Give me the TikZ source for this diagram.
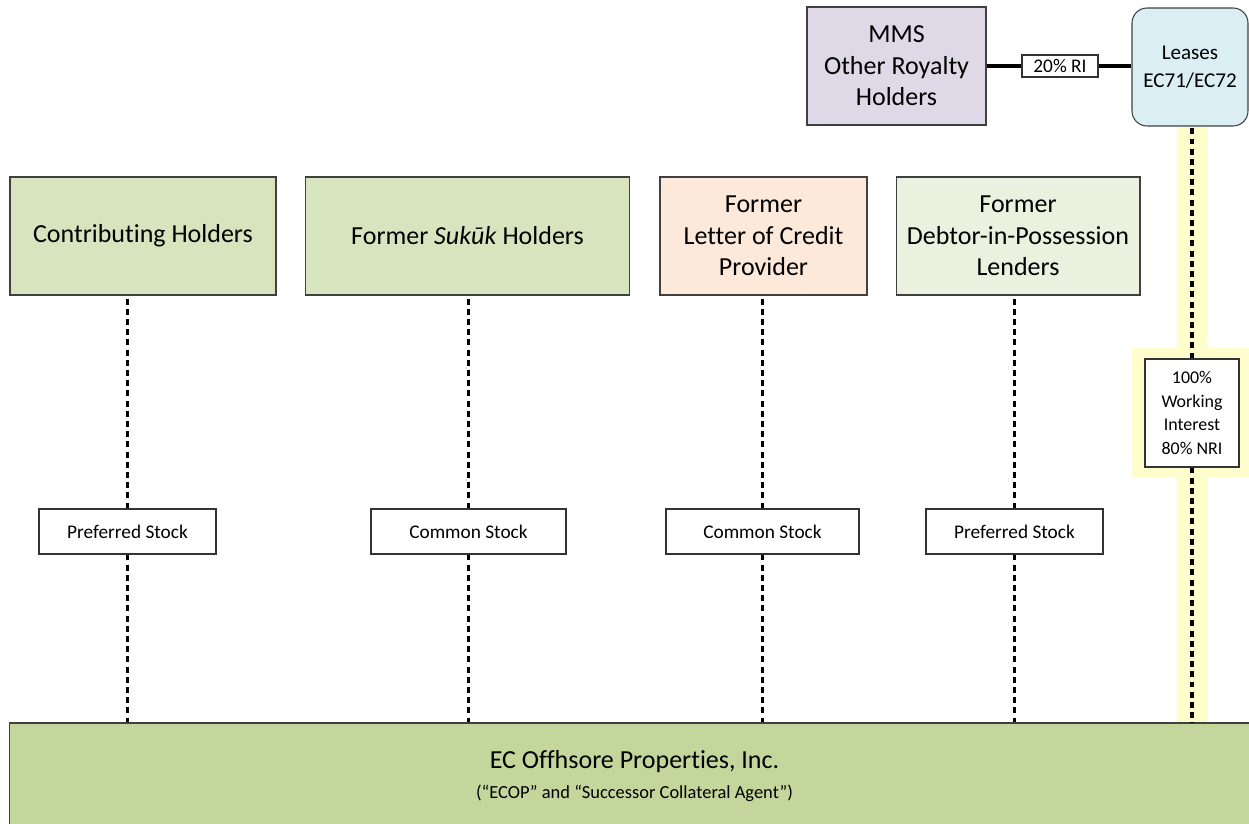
\documentclass[tikz,border=0pt]{standalone}
\usepackage{fontspec}
\setmainfont{Carlito}[Ligatures=NoCommon]
\definecolor{ecgreen}{RGB}{215, 228, 189}
\definecolor{ecpale}{RGB}{235, 241, 222}
\definecolor{ecpeach}{RGB}{253, 233, 217}
\definecolor{eclilac}{RGB}{223, 216, 230}
\definecolor{ecblue}{RGB}{218, 238, 243}
\definecolor{ecdark}{RGB}{195, 214, 155}
\definecolor{ecyellow}{RGB}{255, 253, 204}
\usetikzlibrary{backgrounds}

\begin{document}
\begin{tikzpicture}[x=0.02cm, y=-0.02cm,
    party/.style={draw=black!75, line width=0.6pt, minimum height=2.36cm, align=center,
                  font=\fontsize{14.8pt}{18pt}\selectfont},
    stocklabel/.style={draw=black!80, fill=white, line width=0.6pt, minimum height=0.9cm,
                  font=\fontsize{11pt}{13pt}\selectfont},
    dotline/.style={line width=2pt, dash pattern=on 3.4pt off 2.4pt}]
        \useasboundingbox (0,0) rectangle (1249,824);

        % Royalty side
        \node[party, fill=eclilac, minimum width=3.58cm] (mms) at (896.5,66) {MMS\\Other Royalty\\Holders};
        \node[party, fill=ecblue, minimum width=2.32cm, rounded corners=0.3cm,
              font=\fontsize{12pt}{16pt}\selectfont] (leases) at (1190,67) {Leases\\EC71/EC72};
        \node[stocklabel, minimum width=1.52cm, minimum height=0.44cm, inner sep=1pt] (ri) at (1060,66) {20\% RI};

        % Holders
        \node[party, fill=ecgreen, minimum width=5.32cm] (contrib) at (143,236) {Contribut\kern0pt ing Holders};
        \node[party, fill=ecgreen, minimum width=6.5cm] (sukuk) at (467.5,236) {Former \textit{Sukūk} Holders};
        \node[party, fill=ecpeach, minimum width=4.14cm] (lcp) at (763.5,236) {Former\\Letter of Credit\\Provider};
        \node[party, fill=ecpale, minimum width=4.88cm] (dip) at (1018,236) {Former\\Debtor-in-Possession\\Lenders};

        % ECOP
        \node[party, fill=ecdark, minimum width=25.02cm, minimum height=2.12cm] (ecop) at (634.5,776)
            {EC Offhsore Propert\kern0pt ies, Inc.\\[-1pt]{\fontsize{10.5pt}{13pt}\selectfont (“ECOP” and “Successor Collateral Agent”)}};

        % Stock labels
        \node[stocklabel, minimum width=3.54cm] (pref1) at (127.5,531.5) {Preferred Stock};
        \node[stocklabel, minimum width=3.9cm] (com1) at (468.5,531.5) {Common Stock};
        \node[stocklabel, minimum width=3.86cm] (com2) at (762.5,531.5) {Common Stock};
        \node[stocklabel, minimum width=3.54cm] (pref2) at (1014.5,531.5) {Preferred Stock};
        \node[stocklabel, minimum width=1.88cm, minimum height=2.16cm, align=center, inner sep=1pt,
              font=\fontsize{10.2pt}{13.6pt}\selectfont] (wi) at (1192,413) {100\%\\Working\\Interest\\80\% NRI};

        % Connectors
        \draw[line width=2pt] (mms) -- (ri);
        \draw[line width=2pt] (ri) -- (mms -| leases.west);
        \foreach \lbl/\top in {pref1/contrib, com1/sukuk, com2/lcp, pref2/dip, wi/leases} {
            \draw[dotline] (\lbl) -- (\lbl |- \top.south);
            \draw[dotline] (\lbl) -- (\lbl |- ecop.north);
        }

        % Highlight
        \begin{scope}[on background layer]
            \fill[ecyellow] ([xshift=-0.3cm]wi.north |- leases.south) rectangle ([xshift=0.3cm]wi.south |- ecop.north);
            \fill[ecyellow] ([xshift=-0.24cm, yshift=0.2cm]wi.north west) rectangle ([xshift=0.24cm, yshift=-0.18cm]wi.south east);
        \end{scope}
    \end{tikzpicture}
\end{document}
